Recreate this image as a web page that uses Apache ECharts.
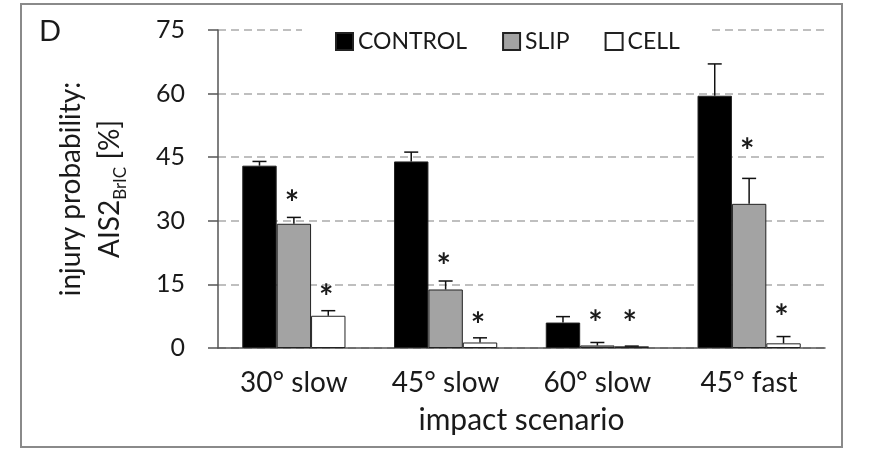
<!DOCTYPE html>
<html><head><meta charset="utf-8">
<script src="https://cdn.jsdelivr.net/npm/echarts@6/dist/echarts.min.js"></script>
<style>html,body{margin:0;padding:0;background:#fff}#c{width:880px;height:474px}</style>
</head><body><div id="c"></div>
<script>
const categories = ['30° slow', '45° slow', '60° slow', '45° fast'];
const seriesNames = ['CONTROL', 'SLIP', 'CELL'];
const controlVals = [43, 44, 6, 59.5];
const slipVals = [29.3, 13.8, 0.6, 34];
const cellVals = [7.6, 1.3, 0.4, 1.1];
const controlErr = [1, 2.2, 1.4, 7.5];
const slipErr = [1.5, 2, 0.7, 6];
const cellErr = [1.2, 1.1, 0.05, 1.6];
const slipStarLevel = [36.1, 21.2, 7.8, 48.3];
const cellStarLevel = [13.9, 7.3, 7.8, 9.2];
const yMin = 0, yMax = 75, yStep = 15;

const FONT = 'Lato';
const chart = echarts.init(document.getElementById('c'), null, {renderer: 'canvas'});

function barOffset(api, idx) {
  const bw = api.size([1, 0])[0] * 0.68 / 3;
  return (idx - 1) * bw;
}

function errSeries(vals, errs, idx) {
  return {
    type: 'custom', silent: true, z: 5,
    data: vals.map((v, i) => [i, v, v + errs[i]]),
    encode: {x: 0, y: [1, 2]},
    renderItem(params, api) {
      const i = api.value(0);
      const base = api.coord([i, api.value(1)]);
      const top = api.coord([i, api.value(2)]);
      const x = base[0] + barOffset(api, idx);
      const cap = 7;
      return {type: 'group', children: [
        {type: 'line', shape: {x1: x, y1: base[1], x2: x, y2: top[1]}, style: {stroke: '#111', lineWidth: 1.5}},
        {type: 'line', shape: {x1: x - cap, y1: top[1], x2: x + cap, y2: top[1]}, style: {stroke: '#111', lineWidth: 1.5}}
      ]};
    }
  };
}

function starSeries(levels, idx) {
  return {
    type: 'custom', silent: true, z: 6,
    data: levels.map((v, i) => [i, v]),
    encode: {x: 0, y: 1},
    renderItem(params, api) {
      const i = api.value(0);
      const p = api.coord([i, api.value(1)]);
      return {type: 'text', x: p[0] + barOffset(api, idx) - 2, y: p[1] + 9,
        style: {text: '*', fontFamily: FONT, fontWeight: 'bold', fontSize: 34, fill: '#1a1a1a', align: 'center', verticalAlign: 'middle'}};
    }
  };
}

const barCommon = {type: 'bar', barGap: '0%', barCategoryGap: '32%', z: 3};

chart.setOption({
  animation: false,
  backgroundColor: '#fff',
  textStyle: {fontFamily: FONT},
  graphic: [
    {type: 'rect', shape: {x: 21, y: 4, width: 821, height: 443}, style: {fill: 'none', stroke: '#8a8a8a', lineWidth: 2}, z: 0},
    {type: 'text', left: 39, top: 17, style: {text: 'D', fontFamily: FONT, fontSize: 29, fill: '#1a1a1a'}}
  ],
  legend: {
    data: seriesNames,
    top: 26, left: 302,
    padding: [4, 28, 4, 33],
    backgroundColor: '#fff',
    itemWidth: 17, itemHeight: 17, itemGap: 35,
    icon: 'rect',
    textStyle: {fontFamily: FONT, fontSize: 23, color: '#1a1a1a'}
  },
  grid: {left: 218, right: 55, top: 30, bottom: 126},
  xAxis: {
    type: 'category', data: categories,
    name: 'impact scenario', nameLocation: 'middle', nameGap: 57,
    nameTextStyle: {fontFamily: FONT, fontSize: 30, color: '#1a1a1a'},
    axisLine: {lineStyle: {color: '#555', width: 1.5}},
    axisTick: {length: 6, lineStyle: {color: '#555', width: 1.5}},
    axisLabel: {fontFamily: FONT, fontSize: 28, color: '#1a1a1a', margin: 21}
  },
  yAxis: {
    type: 'value', min: yMin, max: yMax, interval: yStep,
    name: '{a|injury probability:}\n{a|AIS2}{s|BrIC}{a| [%]}',
    nameLocation: 'middle', nameRotate: 90, nameGap: 89,
    nameTextStyle: {
      rich: {
        a: {fontFamily: FONT, fontSize: 28, color: '#1a1a1a', lineHeight: 39},
        s: {fontFamily: FONT, fontSize: 17, color: '#1a1a1a', lineHeight: 39, verticalAlign: 'bottom', padding: [9, 0, 0, 0]}
      }
    },
    axisLine: {show: true, lineStyle: {color: '#555', width: 1.5}},
    axisTick: {show: true, length: 10, lineStyle: {color: '#555', width: 1.5}},
    axisLabel: {fontFamily: FONT, fontSize: 25, color: '#1a1a1a', margin: 33},
    splitLine: {lineStyle: {color: '#aaa', width: 1.5, type: [8, 5]}}
  },
  series: [
    Object.assign({}, barCommon, {name: 'CONTROL', data: controlVals, itemStyle: {color: '#000', borderColor: '#222', borderWidth: 1}}),
    Object.assign({}, barCommon, {name: 'SLIP', data: slipVals, itemStyle: {color: '#a3a3a3', borderColor: '#222', borderWidth: 1}}),
    Object.assign({}, barCommon, {name: 'CELL', data: cellVals, itemStyle: {color: '#fff', borderColor: '#222', borderWidth: 1}}),
    errSeries(controlVals, controlErr, 0),
    errSeries(slipVals, slipErr, 1),
    errSeries(cellVals, cellErr, 2),
    starSeries(slipStarLevel, 1),
    starSeries(cellStarLevel, 2)
  ]
});
</script></body></html>
